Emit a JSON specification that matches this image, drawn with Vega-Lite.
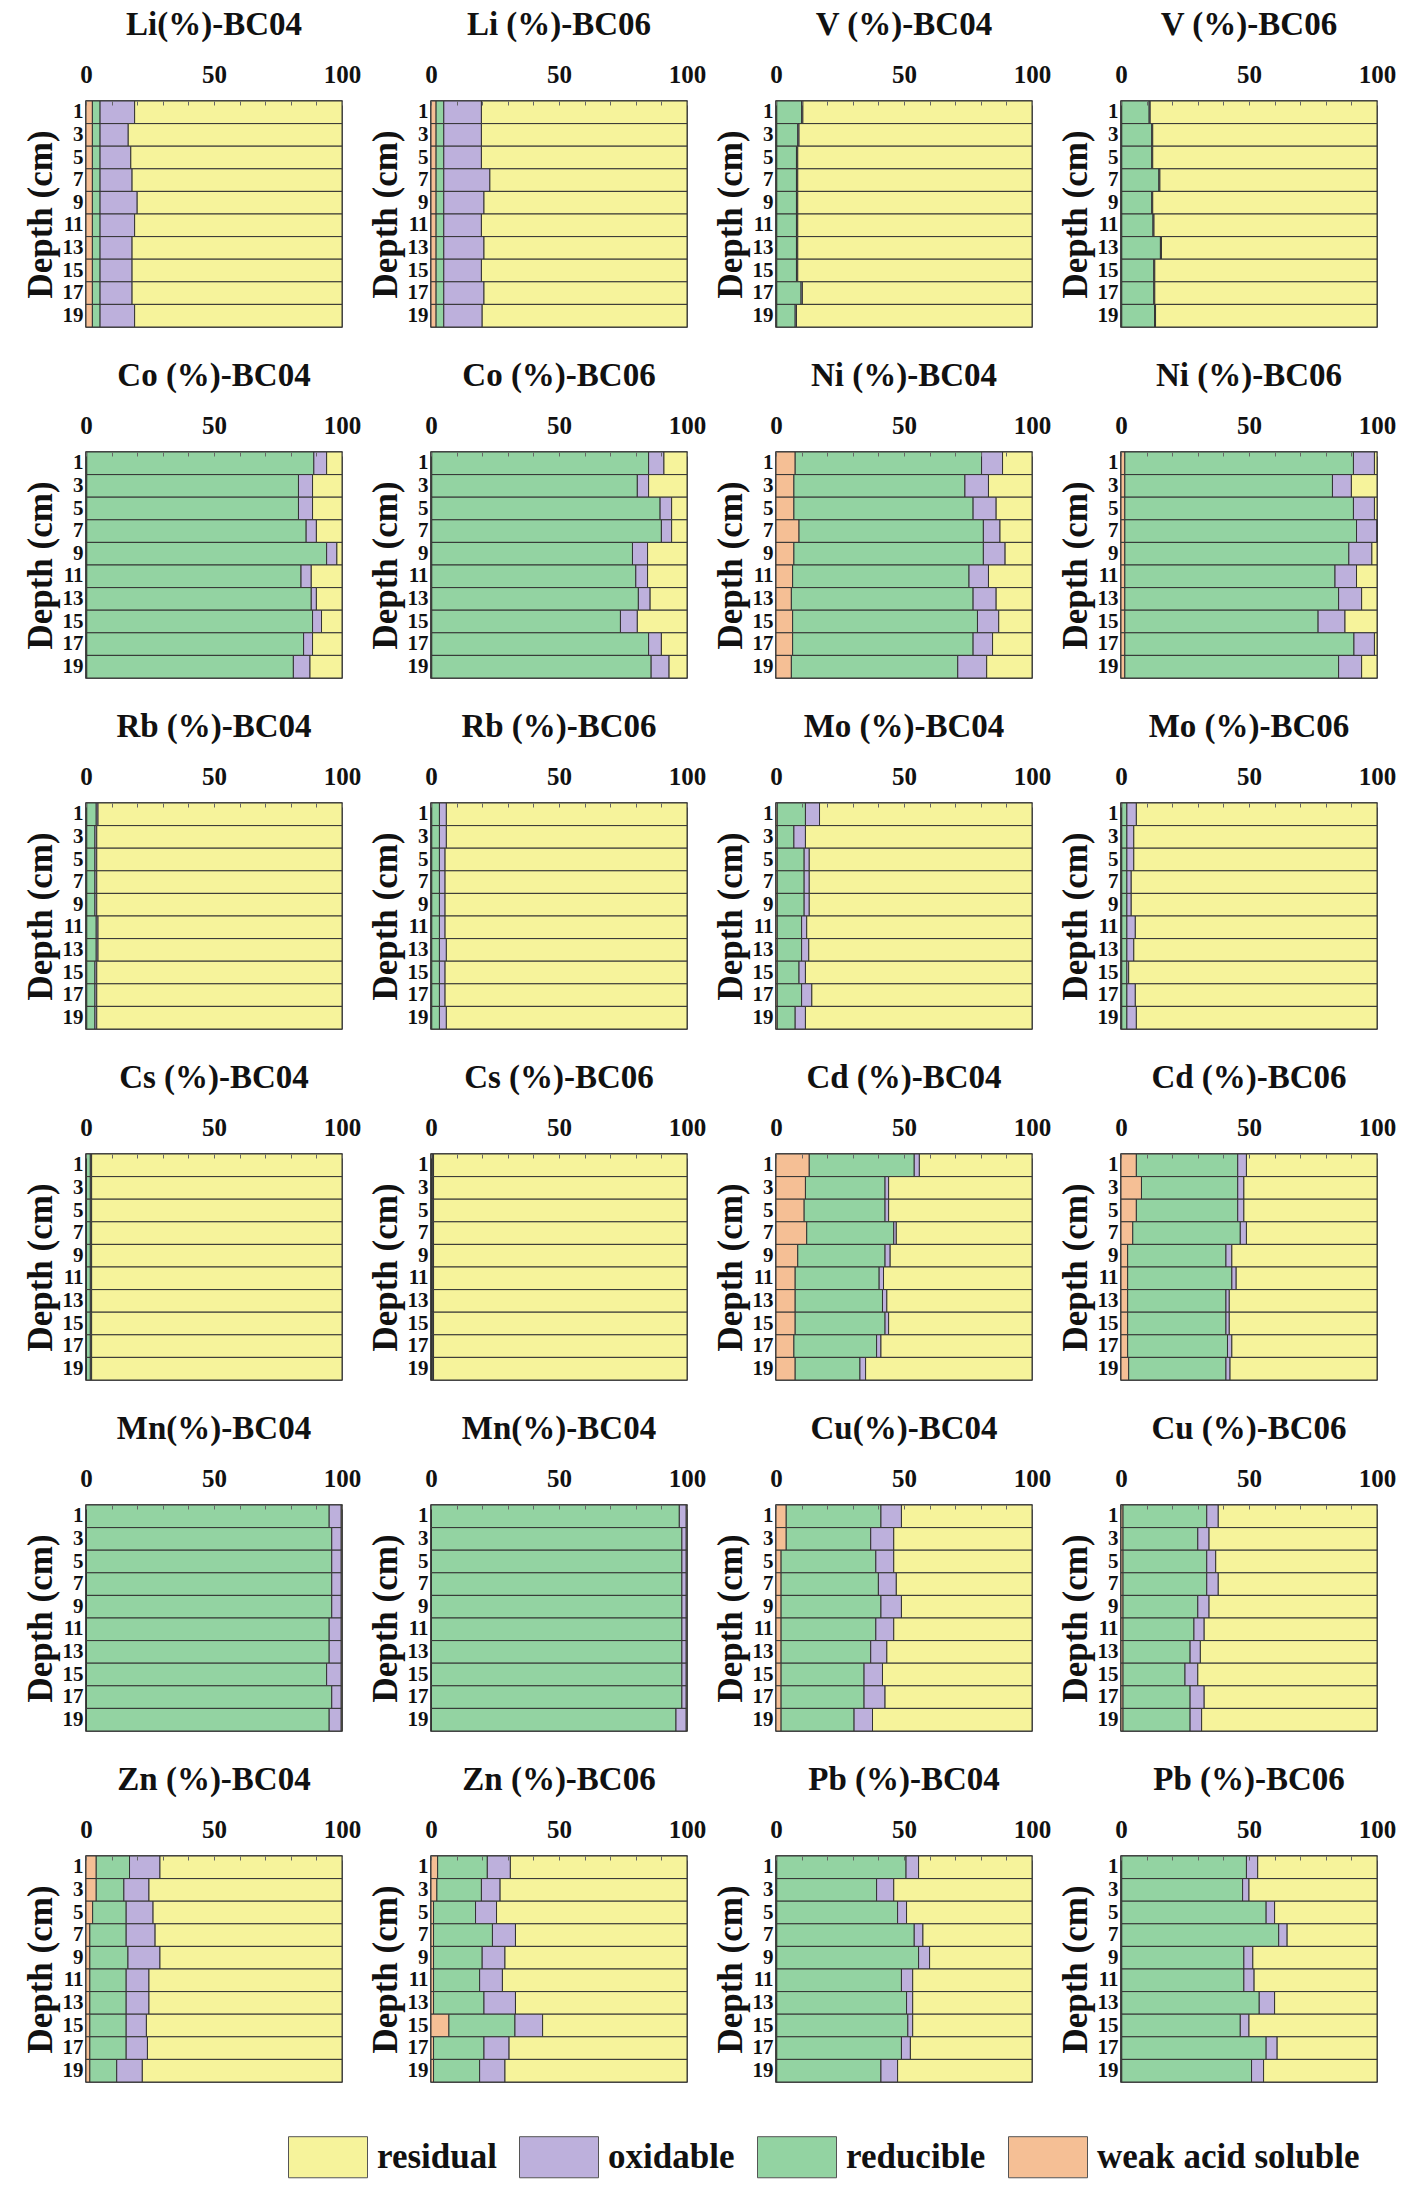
{
  "$schema": "https://vega.github.io/schema/vega-lite/v6.json",
  "background": "white",
  "padding": {"left": 22, "top": 8, "right": 10, "bottom": 10},
  "datasets": {
    "fr": [
      {"fraction": "weak acid soluble", "rank": 1},
      {"fraction": "reducible", "rank": 2},
      {"fraction": "oxidable", "rank": 3},
      {"fraction": "residual", "rank": 4}
    ]
  },
  "data": {
    "values": [
      {"p":"Li(%)-BC04","d":1,"weak acid soluble":2.5,"reducible":3,"oxidable":13.5,"residual":81},
      {"p":"Li(%)-BC04","d":3,"weak acid soluble":2.5,"reducible":3,"oxidable":11,"residual":83.5},
      {"p":"Li(%)-BC04","d":5,"weak acid soluble":2.5,"reducible":3,"oxidable":12,"residual":82.5},
      {"p":"Li(%)-BC04","d":7,"weak acid soluble":2.5,"reducible":3,"oxidable":12.5,"residual":82},
      {"p":"Li(%)-BC04","d":9,"weak acid soluble":2.5,"reducible":3,"oxidable":14.5,"residual":80},
      {"p":"Li(%)-BC04","d":11,"weak acid soluble":2.5,"reducible":3,"oxidable":13.5,"residual":81},
      {"p":"Li(%)-BC04","d":13,"weak acid soluble":2.5,"reducible":3,"oxidable":12.5,"residual":82},
      {"p":"Li(%)-BC04","d":15,"weak acid soluble":2.5,"reducible":3,"oxidable":12.5,"residual":82},
      {"p":"Li(%)-BC04","d":17,"weak acid soluble":2.5,"reducible":3,"oxidable":12.5,"residual":82},
      {"p":"Li(%)-BC04","d":19,"weak acid soluble":2.5,"reducible":3,"oxidable":13.5,"residual":81},

      {"p":"Li (%)-BC06","d":1,"weak acid soluble":2,"reducible":3,"oxidable":14.7,"residual":80.3},
      {"p":"Li (%)-BC06","d":3,"weak acid soluble":2,"reducible":3,"oxidable":14.7,"residual":80.3},
      {"p":"Li (%)-BC06","d":5,"weak acid soluble":2,"reducible":3,"oxidable":14.7,"residual":80.3},
      {"p":"Li (%)-BC06","d":7,"weak acid soluble":2,"reducible":3,"oxidable":18,"residual":77},
      {"p":"Li (%)-BC06","d":9,"weak acid soluble":2,"reducible":3,"oxidable":15.7,"residual":79.3},
      {"p":"Li (%)-BC06","d":11,"weak acid soluble":2,"reducible":3,"oxidable":14.7,"residual":80.3},
      {"p":"Li (%)-BC06","d":13,"weak acid soluble":2,"reducible":3,"oxidable":15.7,"residual":79.3},
      {"p":"Li (%)-BC06","d":15,"weak acid soluble":2,"reducible":3,"oxidable":14.7,"residual":80.3},
      {"p":"Li (%)-BC06","d":17,"weak acid soluble":2,"reducible":3,"oxidable":15.7,"residual":79.3},
      {"p":"Li (%)-BC06","d":19,"weak acid soluble":2,"reducible":3,"oxidable":15,"residual":80},

      {"p":"V (%)-BC04","d":1,"weak acid soluble":0.3,"reducible":9.7,"oxidable":0.5,"residual":89.5},
      {"p":"V (%)-BC04","d":3,"weak acid soluble":0.3,"reducible":8.2,"oxidable":0.5,"residual":91},
      {"p":"V (%)-BC04","d":5,"weak acid soluble":0.3,"reducible":7.7,"oxidable":0.5,"residual":91.5},
      {"p":"V (%)-BC04","d":7,"weak acid soluble":0.3,"reducible":7.7,"oxidable":0.5,"residual":91.5},
      {"p":"V (%)-BC04","d":9,"weak acid soluble":0.3,"reducible":7.7,"oxidable":0.5,"residual":91.5},
      {"p":"V (%)-BC04","d":11,"weak acid soluble":0.3,"reducible":7.7,"oxidable":0.5,"residual":91.5},
      {"p":"V (%)-BC04","d":13,"weak acid soluble":0.3,"reducible":7.7,"oxidable":0.5,"residual":91.5},
      {"p":"V (%)-BC04","d":15,"weak acid soluble":0.3,"reducible":7.7,"oxidable":0.5,"residual":91.5},
      {"p":"V (%)-BC04","d":17,"weak acid soluble":0.3,"reducible":9.5,"oxidable":0.5,"residual":89.7},
      {"p":"V (%)-BC04","d":19,"weak acid soluble":0.3,"reducible":7.2,"oxidable":0.5,"residual":92},

      {"p":"V (%)-BC06","d":1,"weak acid soluble":0.3,"reducible":10.7,"oxidable":0.4,"residual":88.6},
      {"p":"V (%)-BC06","d":3,"weak acid soluble":0.3,"reducible":11.7,"oxidable":0.4,"residual":87.6},
      {"p":"V (%)-BC06","d":5,"weak acid soluble":0.3,"reducible":11.7,"oxidable":0.4,"residual":87.6},
      {"p":"V (%)-BC06","d":7,"weak acid soluble":0.3,"reducible":14.5,"oxidable":0.4,"residual":84.8},
      {"p":"V (%)-BC06","d":9,"weak acid soluble":0.3,"reducible":11.7,"oxidable":0.4,"residual":87.6},
      {"p":"V (%)-BC06","d":11,"weak acid soluble":0.3,"reducible":12.2,"oxidable":0.4,"residual":87.1},
      {"p":"V (%)-BC06","d":13,"weak acid soluble":0.3,"reducible":15.1,"oxidable":0.4,"residual":84.2},
      {"p":"V (%)-BC06","d":15,"weak acid soluble":0.3,"reducible":12.5,"oxidable":0.4,"residual":86.8},
      {"p":"V (%)-BC06","d":17,"weak acid soluble":0.3,"reducible":12.5,"oxidable":0.4,"residual":86.8},
      {"p":"V (%)-BC06","d":19,"weak acid soluble":0.3,"reducible":12.8,"oxidable":0.4,"residual":86.5},

      {"p":"Co (%)-BC04","d":1,"weak acid soluble":0.3,"reducible":88.7,"oxidable":5,"residual":6},
      {"p":"Co (%)-BC04","d":3,"weak acid soluble":0.3,"reducible":82.7,"oxidable":5.5,"residual":11.5},
      {"p":"Co (%)-BC04","d":5,"weak acid soluble":0.3,"reducible":82.7,"oxidable":5.5,"residual":11.5},
      {"p":"Co (%)-BC04","d":7,"weak acid soluble":0.3,"reducible":85.7,"oxidable":4,"residual":10},
      {"p":"Co (%)-BC04","d":9,"weak acid soluble":0.3,"reducible":93.7,"oxidable":4,"residual":2},
      {"p":"Co (%)-BC04","d":11,"weak acid soluble":0.3,"reducible":83.7,"oxidable":4,"residual":12},
      {"p":"Co (%)-BC04","d":13,"weak acid soluble":0.3,"reducible":87.7,"oxidable":2,"residual":10},
      {"p":"Co (%)-BC04","d":15,"weak acid soluble":0.3,"reducible":88.2,"oxidable":3.5,"residual":8},
      {"p":"Co (%)-BC04","d":17,"weak acid soluble":0.3,"reducible":84.7,"oxidable":3.5,"residual":11.5},
      {"p":"Co (%)-BC04","d":19,"weak acid soluble":0.3,"reducible":80.7,"oxidable":6.5,"residual":12.5},

      {"p":"Co (%)-BC06","d":1,"weak acid soluble":0.3,"reducible":84.7,"oxidable":6,"residual":9},
      {"p":"Co (%)-BC06","d":3,"weak acid soluble":0.3,"reducible":80.3,"oxidable":4.4,"residual":15},
      {"p":"Co (%)-BC06","d":5,"weak acid soluble":0.3,"reducible":89.2,"oxidable":4.5,"residual":6},
      {"p":"Co (%)-BC06","d":7,"weak acid soluble":0.3,"reducible":89.7,"oxidable":4,"residual":6},
      {"p":"Co (%)-BC06","d":9,"weak acid soluble":0.3,"reducible":78.4,"oxidable":5.9,"residual":15.4},
      {"p":"Co (%)-BC06","d":11,"weak acid soluble":0.3,"reducible":79.7,"oxidable":4.6,"residual":15.4},
      {"p":"Co (%)-BC06","d":13,"weak acid soluble":0.3,"reducible":80.7,"oxidable":4.6,"residual":14.4},
      {"p":"Co (%)-BC06","d":15,"weak acid soluble":0.3,"reducible":73.7,"oxidable":6.6,"residual":19.4},
      {"p":"Co (%)-BC06","d":17,"weak acid soluble":0.3,"reducible":84.7,"oxidable":5,"residual":10},
      {"p":"Co (%)-BC06","d":19,"weak acid soluble":0.3,"reducible":85.7,"oxidable":7,"residual":7},

      {"p":"Ni (%)-BC04","d":1,"weak acid soluble":7.5,"reducible":72.8,"oxidable":8.2,"residual":11.5},
      {"p":"Ni (%)-BC04","d":3,"weak acid soluble":7,"reducible":66.8,"oxidable":9.2,"residual":17},
      {"p":"Ni (%)-BC04","d":5,"weak acid soluble":7,"reducible":70,"oxidable":9,"residual":14},
      {"p":"Ni (%)-BC04","d":7,"weak acid soluble":9,"reducible":72,"oxidable":6.5,"residual":12.5},
      {"p":"Ni (%)-BC04","d":9,"weak acid soluble":7,"reducible":74,"oxidable":8.5,"residual":10.5},
      {"p":"Ni (%)-BC04","d":11,"weak acid soluble":6.5,"reducible":68.9,"oxidable":7.6,"residual":17},
      {"p":"Ni (%)-BC04","d":13,"weak acid soluble":6,"reducible":71,"oxidable":9,"residual":14},
      {"p":"Ni (%)-BC04","d":15,"weak acid soluble":6.5,"reducible":72.2,"oxidable":8.3,"residual":13},
      {"p":"Ni (%)-BC04","d":17,"weak acid soluble":6.5,"reducible":70.5,"oxidable":7.6,"residual":15.4},
      {"p":"Ni (%)-BC04","d":19,"weak acid soluble":6,"reducible":65,"oxidable":11.3,"residual":17.7},

      {"p":"Ni (%)-BC06","d":1,"weak acid soluble":1.5,"reducible":89.3,"oxidable":8.2,"residual":1},
      {"p":"Ni (%)-BC06","d":3,"weak acid soluble":1.5,"reducible":81.1,"oxidable":7.4,"residual":10},
      {"p":"Ni (%)-BC06","d":5,"weak acid soluble":1.5,"reducible":89.3,"oxidable":8.2,"residual":1},
      {"p":"Ni (%)-BC06","d":7,"weak acid soluble":1.5,"reducible":90.5,"oxidable":8,"residual":0},
      {"p":"Ni (%)-BC06","d":9,"weak acid soluble":1.5,"reducible":87.5,"oxidable":9,"residual":2},
      {"p":"Ni (%)-BC06","d":11,"weak acid soluble":1.5,"reducible":82.1,"oxidable":8.4,"residual":8},
      {"p":"Ni (%)-BC06","d":13,"weak acid soluble":1.5,"reducible":83.5,"oxidable":9,"residual":6},
      {"p":"Ni (%)-BC06","d":15,"weak acid soluble":1.5,"reducible":75.5,"oxidable":10.5,"residual":12.5},
      {"p":"Ni (%)-BC06","d":17,"weak acid soluble":1.5,"reducible":89.5,"oxidable":8,"residual":1},
      {"p":"Ni (%)-BC06","d":19,"weak acid soluble":1.5,"reducible":83.5,"oxidable":9,"residual":6},

      {"p":"Rb (%)-BC04","d":1,"weak acid soluble":0.3,"reducible":3.7,"oxidable":0.7,"residual":95.3},
      {"p":"Rb (%)-BC04","d":3,"weak acid soluble":0.3,"reducible":3.2,"oxidable":0.7,"residual":95.8},
      {"p":"Rb (%)-BC04","d":5,"weak acid soluble":0.3,"reducible":3.2,"oxidable":0.7,"residual":95.8},
      {"p":"Rb (%)-BC04","d":7,"weak acid soluble":0.3,"reducible":3.2,"oxidable":0.7,"residual":95.8},
      {"p":"Rb (%)-BC04","d":9,"weak acid soluble":0.3,"reducible":3.2,"oxidable":0.7,"residual":95.8},
      {"p":"Rb (%)-BC04","d":11,"weak acid soluble":0.3,"reducible":3.7,"oxidable":0.7,"residual":95.3},
      {"p":"Rb (%)-BC04","d":13,"weak acid soluble":0.3,"reducible":3.7,"oxidable":0.7,"residual":95.3},
      {"p":"Rb (%)-BC04","d":15,"weak acid soluble":0.3,"reducible":3.2,"oxidable":0.7,"residual":95.8},
      {"p":"Rb (%)-BC04","d":17,"weak acid soluble":0.3,"reducible":3.2,"oxidable":0.7,"residual":95.8},
      {"p":"Rb (%)-BC04","d":19,"weak acid soluble":0.3,"reducible":3.2,"oxidable":0.7,"residual":95.8},

      {"p":"Rb (%)-BC06","d":1,"weak acid soluble":0.3,"reducible":3,"oxidable":2.7,"residual":94},
      {"p":"Rb (%)-BC06","d":3,"weak acid soluble":0.3,"reducible":3,"oxidable":2.7,"residual":94},
      {"p":"Rb (%)-BC06","d":5,"weak acid soluble":0.3,"reducible":3,"oxidable":2.2,"residual":94.5},
      {"p":"Rb (%)-BC06","d":7,"weak acid soluble":0.3,"reducible":3,"oxidable":2.2,"residual":94.5},
      {"p":"Rb (%)-BC06","d":9,"weak acid soluble":0.3,"reducible":3,"oxidable":2.2,"residual":94.5},
      {"p":"Rb (%)-BC06","d":11,"weak acid soluble":0.3,"reducible":3,"oxidable":2.2,"residual":94.5},
      {"p":"Rb (%)-BC06","d":13,"weak acid soluble":0.3,"reducible":3,"oxidable":2.7,"residual":94},
      {"p":"Rb (%)-BC06","d":15,"weak acid soluble":0.3,"reducible":3,"oxidable":2.2,"residual":94.5},
      {"p":"Rb (%)-BC06","d":17,"weak acid soluble":0.3,"reducible":3,"oxidable":2.2,"residual":94.5},
      {"p":"Rb (%)-BC06","d":19,"weak acid soluble":0.3,"reducible":3,"oxidable":2.7,"residual":94},

      {"p":"Mo (%)-BC04","d":1,"weak acid soluble":0.5,"reducible":11,"oxidable":5.5,"residual":83},
      {"p":"Mo (%)-BC04","d":3,"weak acid soluble":0.5,"reducible":6.5,"oxidable":4.5,"residual":88.5},
      {"p":"Mo (%)-BC04","d":5,"weak acid soluble":0.5,"reducible":10.5,"oxidable":2,"residual":87},
      {"p":"Mo (%)-BC04","d":7,"weak acid soluble":0.5,"reducible":10.5,"oxidable":2,"residual":87},
      {"p":"Mo (%)-BC04","d":9,"weak acid soluble":0.5,"reducible":10.5,"oxidable":2,"residual":87},
      {"p":"Mo (%)-BC04","d":11,"weak acid soluble":0.5,"reducible":9.5,"oxidable":2,"residual":88},
      {"p":"Mo (%)-BC04","d":13,"weak acid soluble":0.5,"reducible":9.5,"oxidable":2.8,"residual":87.2},
      {"p":"Mo (%)-BC04","d":15,"weak acid soluble":0.5,"reducible":8.5,"oxidable":2.5,"residual":88.5},
      {"p":"Mo (%)-BC04","d":17,"weak acid soluble":0.5,"reducible":9.5,"oxidable":4,"residual":86},
      {"p":"Mo (%)-BC04","d":19,"weak acid soluble":0.5,"reducible":7,"oxidable":4,"residual":88.5},

      {"p":"Mo (%)-BC06","d":1,"weak acid soluble":0.3,"reducible":2,"oxidable":3.7,"residual":94},
      {"p":"Mo (%)-BC06","d":3,"weak acid soluble":0.3,"reducible":2,"oxidable":2.7,"residual":95},
      {"p":"Mo (%)-BC06","d":5,"weak acid soluble":0.3,"reducible":2,"oxidable":2.7,"residual":95},
      {"p":"Mo (%)-BC06","d":7,"weak acid soluble":0.3,"reducible":2,"oxidable":1.7,"residual":96},
      {"p":"Mo (%)-BC06","d":9,"weak acid soluble":0.3,"reducible":2,"oxidable":1.7,"residual":96},
      {"p":"Mo (%)-BC06","d":11,"weak acid soluble":0.3,"reducible":2,"oxidable":3.3,"residual":94.4},
      {"p":"Mo (%)-BC06","d":13,"weak acid soluble":0.3,"reducible":2,"oxidable":2.7,"residual":95},
      {"p":"Mo (%)-BC06","d":15,"weak acid soluble":0.3,"reducible":2,"oxidable":0.7,"residual":97},
      {"p":"Mo (%)-BC06","d":17,"weak acid soluble":0.3,"reducible":2,"oxidable":3.3,"residual":94.4},
      {"p":"Mo (%)-BC06","d":19,"weak acid soluble":0.3,"reducible":2,"oxidable":3.7,"residual":94},

      {"p":"Cs (%)-BC04","d":1,"weak acid soluble":0.2,"reducible":1.5,"oxidable":0.5,"residual":97.8},
      {"p":"Cs (%)-BC04","d":3,"weak acid soluble":0.2,"reducible":1.5,"oxidable":0.5,"residual":97.8},
      {"p":"Cs (%)-BC04","d":5,"weak acid soluble":0.2,"reducible":1.5,"oxidable":0.5,"residual":97.8},
      {"p":"Cs (%)-BC04","d":7,"weak acid soluble":0.2,"reducible":1.5,"oxidable":0.5,"residual":97.8},
      {"p":"Cs (%)-BC04","d":9,"weak acid soluble":0.2,"reducible":1.5,"oxidable":0.5,"residual":97.8},
      {"p":"Cs (%)-BC04","d":11,"weak acid soluble":0.2,"reducible":1.5,"oxidable":0.5,"residual":97.8},
      {"p":"Cs (%)-BC04","d":13,"weak acid soluble":0.2,"reducible":1.5,"oxidable":0.5,"residual":97.8},
      {"p":"Cs (%)-BC04","d":15,"weak acid soluble":0.2,"reducible":1.5,"oxidable":0.5,"residual":97.8},
      {"p":"Cs (%)-BC04","d":17,"weak acid soluble":0.2,"reducible":1.5,"oxidable":0.5,"residual":97.8},
      {"p":"Cs (%)-BC04","d":19,"weak acid soluble":0.2,"reducible":1.5,"oxidable":0.5,"residual":97.8},

      {"p":"Cs (%)-BC06","d":1,"weak acid soluble":0.2,"reducible":0.5,"oxidable":0.3,"residual":99},
      {"p":"Cs (%)-BC06","d":3,"weak acid soluble":0.2,"reducible":0.5,"oxidable":0.3,"residual":99},
      {"p":"Cs (%)-BC06","d":5,"weak acid soluble":0.2,"reducible":0.5,"oxidable":0.3,"residual":99},
      {"p":"Cs (%)-BC06","d":7,"weak acid soluble":0.2,"reducible":0.5,"oxidable":0.3,"residual":99},
      {"p":"Cs (%)-BC06","d":9,"weak acid soluble":0.2,"reducible":0.5,"oxidable":0.3,"residual":99},
      {"p":"Cs (%)-BC06","d":11,"weak acid soluble":0.2,"reducible":0.5,"oxidable":0.3,"residual":99},
      {"p":"Cs (%)-BC06","d":13,"weak acid soluble":0.2,"reducible":0.5,"oxidable":0.3,"residual":99},
      {"p":"Cs (%)-BC06","d":15,"weak acid soluble":0.2,"reducible":0.5,"oxidable":0.3,"residual":99},
      {"p":"Cs (%)-BC06","d":17,"weak acid soluble":0.2,"reducible":0.5,"oxidable":0.3,"residual":99},
      {"p":"Cs (%)-BC06","d":19,"weak acid soluble":0.2,"reducible":0.5,"oxidable":0.3,"residual":99},

      {"p":"Cd (%)-BC04","d":1,"weak acid soluble":13,"reducible":41,"oxidable":2,"residual":44},
      {"p":"Cd (%)-BC04","d":3,"weak acid soluble":11.5,"reducible":31.1,"oxidable":1.4,"residual":56},
      {"p":"Cd (%)-BC04","d":5,"weak acid soluble":11,"reducible":31.6,"oxidable":1.4,"residual":56},
      {"p":"Cd (%)-BC04","d":7,"weak acid soluble":12,"reducible":34,"oxidable":1,"residual":53},
      {"p":"Cd (%)-BC04","d":9,"weak acid soluble":8.5,"reducible":34.1,"oxidable":2,"residual":55.4},
      {"p":"Cd (%)-BC04","d":11,"weak acid soluble":7.5,"reducible":32.8,"oxidable":1.7,"residual":58},
      {"p":"Cd (%)-BC04","d":13,"weak acid soluble":7.5,"reducible":34.1,"oxidable":1.7,"residual":56.7},
      {"p":"Cd (%)-BC04","d":15,"weak acid soluble":7.5,"reducible":35.1,"oxidable":1.4,"residual":56},
      {"p":"Cd (%)-BC04","d":17,"weak acid soluble":7,"reducible":32.3,"oxidable":1.7,"residual":59},
      {"p":"Cd (%)-BC04","d":19,"weak acid soluble":7.5,"reducible":25.3,"oxidable":2.2,"residual":65},

      {"p":"Cd (%)-BC06","d":1,"weak acid soluble":6,"reducible":39.6,"oxidable":3.4,"residual":51},
      {"p":"Cd (%)-BC06","d":3,"weak acid soluble":8,"reducible":37.6,"oxidable":2.4,"residual":52},
      {"p":"Cd (%)-BC06","d":5,"weak acid soluble":6,"reducible":39.6,"oxidable":2.4,"residual":52},
      {"p":"Cd (%)-BC06","d":7,"weak acid soluble":4.6,"reducible":42,"oxidable":2.4,"residual":51},
      {"p":"Cd (%)-BC06","d":9,"weak acid soluble":2.6,"reducible":38.4,"oxidable":2.3,"residual":56.7},
      {"p":"Cd (%)-BC06","d":11,"weak acid soluble":2.6,"reducible":40.7,"oxidable":1.7,"residual":55},
      {"p":"Cd (%)-BC06","d":13,"weak acid soluble":2.6,"reducible":38.4,"oxidable":1.3,"residual":57.7},
      {"p":"Cd (%)-BC06","d":15,"weak acid soluble":2.6,"reducible":38.4,"oxidable":1.3,"residual":57.7},
      {"p":"Cd (%)-BC06","d":17,"weak acid soluble":2.6,"reducible":39,"oxidable":1.7,"residual":56.7},
      {"p":"Cd (%)-BC06","d":19,"weak acid soluble":3,"reducible":38,"oxidable":1.6,"residual":57.4},

      {"p":"Mn(%)-BC04","d":1,"weak acid soluble":0.2,"reducible":94.8,"oxidable":4.7,"residual":0.3},
      {"p":"Mn(%)-BC04","d":3,"weak acid soluble":0.2,"reducible":95.8,"oxidable":3.7,"residual":0.3},
      {"p":"Mn(%)-BC04","d":5,"weak acid soluble":0.2,"reducible":95.8,"oxidable":3.7,"residual":0.3},
      {"p":"Mn(%)-BC04","d":7,"weak acid soluble":0.2,"reducible":95.8,"oxidable":3.7,"residual":0.3},
      {"p":"Mn(%)-BC04","d":9,"weak acid soluble":0.2,"reducible":95.8,"oxidable":3.7,"residual":0.3},
      {"p":"Mn(%)-BC04","d":11,"weak acid soluble":0.2,"reducible":94.8,"oxidable":4.7,"residual":0.3},
      {"p":"Mn(%)-BC04","d":13,"weak acid soluble":0.2,"reducible":94.8,"oxidable":4.7,"residual":0.3},
      {"p":"Mn(%)-BC04","d":15,"weak acid soluble":0.2,"reducible":93.8,"oxidable":5.7,"residual":0.3},
      {"p":"Mn(%)-BC04","d":17,"weak acid soluble":0.2,"reducible":95.8,"oxidable":3.7,"residual":0.3},
      {"p":"Mn(%)-BC04","d":19,"weak acid soluble":0.2,"reducible":94.8,"oxidable":4.7,"residual":0.3},

      {"p":"Mn(%)-BC04 ","d":1,"weak acid soluble":0.2,"reducible":96.8,"oxidable":2.7,"residual":0.3},
      {"p":"Mn(%)-BC04 ","d":3,"weak acid soluble":0.2,"reducible":97.8,"oxidable":1.7,"residual":0.3},
      {"p":"Mn(%)-BC04 ","d":5,"weak acid soluble":0.2,"reducible":97.8,"oxidable":1.7,"residual":0.3},
      {"p":"Mn(%)-BC04 ","d":7,"weak acid soluble":0.2,"reducible":97.8,"oxidable":1.7,"residual":0.3},
      {"p":"Mn(%)-BC04 ","d":9,"weak acid soluble":0.2,"reducible":97.8,"oxidable":1.7,"residual":0.3},
      {"p":"Mn(%)-BC04 ","d":11,"weak acid soluble":0.2,"reducible":97.8,"oxidable":1.7,"residual":0.3},
      {"p":"Mn(%)-BC04 ","d":13,"weak acid soluble":0.2,"reducible":97.8,"oxidable":1.7,"residual":0.3},
      {"p":"Mn(%)-BC04 ","d":15,"weak acid soluble":0.2,"reducible":97.8,"oxidable":1.7,"residual":0.3},
      {"p":"Mn(%)-BC04 ","d":17,"weak acid soluble":0.2,"reducible":97.8,"oxidable":1.7,"residual":0.3},
      {"p":"Mn(%)-BC04 ","d":19,"weak acid soluble":0.2,"reducible":95.5,"oxidable":4,"residual":0.3},

      {"p":"Cu(%)-BC04","d":1,"weak acid soluble":4,"reducible":37,"oxidable":8,"residual":51},
      {"p":"Cu(%)-BC04","d":3,"weak acid soluble":4,"reducible":33,"oxidable":9,"residual":54},
      {"p":"Cu(%)-BC04","d":5,"weak acid soluble":2,"reducible":37,"oxidable":7,"residual":54},
      {"p":"Cu(%)-BC04","d":7,"weak acid soluble":2,"reducible":38,"oxidable":7,"residual":53},
      {"p":"Cu(%)-BC04","d":9,"weak acid soluble":2,"reducible":39,"oxidable":8,"residual":51},
      {"p":"Cu(%)-BC04","d":11,"weak acid soluble":2,"reducible":37,"oxidable":7,"residual":54},
      {"p":"Cu(%)-BC04","d":13,"weak acid soluble":2,"reducible":35,"oxidable":6.3,"residual":56.7},
      {"p":"Cu(%)-BC04","d":15,"weak acid soluble":2,"reducible":32.4,"oxidable":7.2,"residual":58.4},
      {"p":"Cu(%)-BC04","d":17,"weak acid soluble":2,"reducible":32.4,"oxidable":8.2,"residual":57.4},
      {"p":"Cu(%)-BC04","d":19,"weak acid soluble":2,"reducible":28.5,"oxidable":7.2,"residual":62.3},

      {"p":"Cu (%)-BC06","d":1,"weak acid soluble":0.8,"reducible":32.7,"oxidable":4.5,"residual":62},
      {"p":"Cu (%)-BC06","d":3,"weak acid soluble":0.8,"reducible":29.2,"oxidable":4.4,"residual":65.6},
      {"p":"Cu (%)-BC06","d":5,"weak acid soluble":0.8,"reducible":32.7,"oxidable":3.5,"residual":63},
      {"p":"Cu (%)-BC06","d":7,"weak acid soluble":0.8,"reducible":32.7,"oxidable":4.5,"residual":62},
      {"p":"Cu (%)-BC06","d":9,"weak acid soluble":0.8,"reducible":29.2,"oxidable":4.4,"residual":65.6},
      {"p":"Cu (%)-BC06","d":11,"weak acid soluble":0.8,"reducible":27.7,"oxidable":4,"residual":67.5},
      {"p":"Cu (%)-BC06","d":13,"weak acid soluble":0.8,"reducible":26.2,"oxidable":4,"residual":69},
      {"p":"Cu (%)-BC06","d":15,"weak acid soluble":0.8,"reducible":24.2,"oxidable":5,"residual":70},
      {"p":"Cu (%)-BC06","d":17,"weak acid soluble":0.8,"reducible":26.2,"oxidable":5.5,"residual":67.5},
      {"p":"Cu (%)-BC06","d":19,"weak acid soluble":0.8,"reducible":26.2,"oxidable":4.5,"residual":68.5},

      {"p":"Zn (%)-BC04","d":1,"weak acid soluble":4,"reducible":13,"oxidable":11.9,"residual":71.1},
      {"p":"Zn (%)-BC04","d":3,"weak acid soluble":4,"reducible":10.8,"oxidable":9.8,"residual":75.4},
      {"p":"Zn (%)-BC04","d":5,"weak acid soluble":2.6,"reducible":13.1,"oxidable":10.5,"residual":73.8},
      {"p":"Zn (%)-BC04","d":7,"weak acid soluble":1.5,"reducible":14.2,"oxidable":11.3,"residual":73},
      {"p":"Zn (%)-BC04","d":9,"weak acid soluble":1.5,"reducible":14.9,"oxidable":12.5,"residual":71.1},
      {"p":"Zn (%)-BC04","d":11,"weak acid soluble":1.5,"reducible":14.2,"oxidable":8.9,"residual":75.4},
      {"p":"Zn (%)-BC04","d":13,"weak acid soluble":1.5,"reducible":14.2,"oxidable":8.9,"residual":75.4},
      {"p":"Zn (%)-BC04","d":15,"weak acid soluble":1.5,"reducible":14.2,"oxidable":7.9,"residual":76.4},
      {"p":"Zn (%)-BC04","d":17,"weak acid soluble":1.5,"reducible":14.2,"oxidable":8.3,"residual":76},
      {"p":"Zn (%)-BC04","d":19,"weak acid soluble":1.5,"reducible":10.5,"oxidable":10,"residual":78},

      {"p":"Zn (%)-BC06","d":1,"weak acid soluble":2.6,"reducible":19.4,"oxidable":9,"residual":69},
      {"p":"Zn (%)-BC06","d":3,"weak acid soluble":2.3,"reducible":17.4,"oxidable":7.3,"residual":73},
      {"p":"Zn (%)-BC06","d":5,"weak acid soluble":1,"reducible":16.4,"oxidable":8.2,"residual":74.4},
      {"p":"Zn (%)-BC06","d":7,"weak acid soluble":1,"reducible":23,"oxidable":9,"residual":67},
      {"p":"Zn (%)-BC06","d":9,"weak acid soluble":1,"reducible":19,"oxidable":8.9,"residual":71.1},
      {"p":"Zn (%)-BC06","d":11,"weak acid soluble":1,"reducible":18,"oxidable":8.9,"residual":72.1},
      {"p":"Zn (%)-BC06","d":13,"weak acid soluble":1,"reducible":19.7,"oxidable":12.3,"residual":67},
      {"p":"Zn (%)-BC06","d":15,"weak acid soluble":7,"reducible":25.8,"oxidable":10.8,"residual":56.4},
      {"p":"Zn (%)-BC06","d":17,"weak acid soluble":1,"reducible":19.7,"oxidable":9.8,"residual":69.5},
      {"p":"Zn (%)-BC06","d":19,"weak acid soluble":1,"reducible":18,"oxidable":9.9,"residual":71.1},

      {"p":"Pb (%)-BC04","d":1,"weak acid soluble":0.3,"reducible":50.5,"oxidable":4.9,"residual":44.3},
      {"p":"Pb (%)-BC04","d":3,"weak acid soluble":0.3,"reducible":39,"oxidable":6.7,"residual":54},
      {"p":"Pb (%)-BC04","d":5,"weak acid soluble":0.3,"reducible":47.2,"oxidable":3.5,"residual":49},
      {"p":"Pb (%)-BC04","d":7,"weak acid soluble":0.3,"reducible":53.7,"oxidable":3.4,"residual":42.6},
      {"p":"Pb (%)-BC04","d":9,"weak acid soluble":0.3,"reducible":55.4,"oxidable":4.3,"residual":40},
      {"p":"Pb (%)-BC04","d":11,"weak acid soluble":0.3,"reducible":48.7,"oxidable":4.4,"residual":46.6},
      {"p":"Pb (%)-BC04","d":13,"weak acid soluble":0.3,"reducible":50.7,"oxidable":2.4,"residual":46.6},
      {"p":"Pb (%)-BC04","d":15,"weak acid soluble":0.3,"reducible":51.2,"oxidable":1.9,"residual":46.6},
      {"p":"Pb (%)-BC04","d":17,"weak acid soluble":0.3,"reducible":48.7,"oxidable":3.5,"residual":47.5},
      {"p":"Pb (%)-BC04","d":19,"weak acid soluble":0.3,"reducible":40.7,"oxidable":6.5,"residual":52.5},

      {"p":"Pb (%)-BC06","d":1,"weak acid soluble":0.3,"reducible":48.7,"oxidable":4.4,"residual":46.6},
      {"p":"Pb (%)-BC06","d":3,"weak acid soluble":0.3,"reducible":47.2,"oxidable":2.5,"residual":50},
      {"p":"Pb (%)-BC06","d":5,"weak acid soluble":0.3,"reducible":56.4,"oxidable":3.3,"residual":40},
      {"p":"Pb (%)-BC06","d":7,"weak acid soluble":0.3,"reducible":61.3,"oxidable":3.3,"residual":35.1},
      {"p":"Pb (%)-BC06","d":9,"weak acid soluble":0.3,"reducible":47.7,"oxidable":3.5,"residual":48.5},
      {"p":"Pb (%)-BC06","d":11,"weak acid soluble":0.3,"reducible":47.7,"oxidable":4,"residual":48},
      {"p":"Pb (%)-BC06","d":13,"weak acid soluble":0.3,"reducible":53.7,"oxidable":6,"residual":40},
      {"p":"Pb (%)-BC06","d":15,"weak acid soluble":0.3,"reducible":46.3,"oxidable":3.4,"residual":50},
      {"p":"Pb (%)-BC06","d":17,"weak acid soluble":0.3,"reducible":56.4,"oxidable":4.3,"residual":39},
      {"p":"Pb (%)-BC06","d":19,"weak acid soluble":0.3,"reducible":50.7,"oxidable":4.7,"residual":44.3}
    ]
  },
  "transform": [
    {"fold": ["weak acid soluble", "reducible", "oxidable", "residual"], "as": ["fraction", "pct"]},
    {"lookup": "fraction", "from": {"data": {"name": "fr"}, "key": "fraction", "fields": ["rank"]}}
  ],
  "facet": {
    "field": "p",
    "type": "nominal",
    "sort": [
      "Li(%)-BC04", "Li (%)-BC06", "V (%)-BC04", "V (%)-BC06",
      "Co (%)-BC04", "Co (%)-BC06", "Ni (%)-BC04", "Ni (%)-BC06",
      "Rb (%)-BC04", "Rb (%)-BC06", "Mo (%)-BC04", "Mo (%)-BC06",
      "Cs (%)-BC04", "Cs (%)-BC06", "Cd (%)-BC04", "Cd (%)-BC06",
      "Mn(%)-BC04", "Mn(%)-BC04 ", "Cu(%)-BC04", "Cu (%)-BC06",
      "Zn (%)-BC04", "Zn (%)-BC06", "Pb (%)-BC04", "Pb (%)-BC06"
    ],
    "header": {
      "title": null,
      "labelFont": "Liberation Serif",
      "labelFontSize": 33,
      "labelFontWeight": "bold",
      "labelColor": "#111",
      "labelPadding": 20
    }
  },
  "columns": 4,
  "spacing": {"column": 89, "row": 125},
  "bounds": "flush",
  "resolve": {"axis": {"x": "independent", "y": "independent"}},
  "spec": {
    "width": 256,
    "height": 226,
    "mark": {"type": "bar", "stroke": "#333", "strokeWidth": 1},
    "encoding": {
      "y": {
        "field": "d",
        "type": "ordinal",
        "title": "Depth (cm)",
        "scale": {"paddingInner": 0, "paddingOuter": 0},
        "axis": {
          "labelFont": "Liberation Serif",
          "labelFontSize": 21,
          "labelFontWeight": "bold",
          "labelColor": "#111",
          "labelPadding": 3,
          "ticks": false,
          "domain": false,
          "titleFont": "Liberation Serif",
          "titleFontSize": 35,
          "titleFontWeight": "bold",
          "titleColor": "#111",
          "titlePadding": 4
        }
      },
      "x": {
        "field": "pct",
        "type": "quantitative",
        "stack": "zero",
        "title": null,
        "scale": {"domain": [0, 100], "nice": false},
        "axis": {
          "orient": "top",
          "values": [0, 10, 20, 30, 40, 50, 60, 70, 80, 90, 100],
          "labelExpr": "datum.value % 50 === 0 ? datum.label : ''",
          "labelFont": "Liberation Serif",
          "labelFontSize": 25,
          "labelFontWeight": "bold",
          "labelColor": "#111",
          "labelFlush": false,
          "labelPadding": 18,
          "tickSize": -4,
          "tickColor": "#666",
          "domain": false,
          "grid": false,
          "zindex": 1
        }
      },
      "color": {
        "field": "fraction",
        "type": "nominal",
        "scale": {
          "domain": ["residual", "oxidable", "reducible", "weak acid soluble"],
          "range": ["#f6f39b", "#bdb0dc", "#93d3a2", "#f5bf95"]
        },
        "legend": {
          "title": null,
          "orient": "none",
          "legendX": 202,
          "legendY": 2016,
          "direction": "horizontal",
          "symbolType": "M-1,-0.52H1V0.52H-1Z",
          "symbolSize": 6241,
          "symbolStrokeColor": "#555",
          "symbolStrokeWidth": 1,
          "symbolOpacity": 1,
          "labelFont": "Liberation Serif",
          "labelFontSize": 35,
          "labelFontWeight": "bold",
          "labelColor": "#111",
          "labelOffset": 9,
          "columnPadding": 20,
          "labelLimit": 400
        }
      },
      "order": {"field": "rank", "type": "quantitative"}
    }
  },
  "config": {
    "view": {"stroke": "#222", "strokeWidth": 1.5}
  }
}
